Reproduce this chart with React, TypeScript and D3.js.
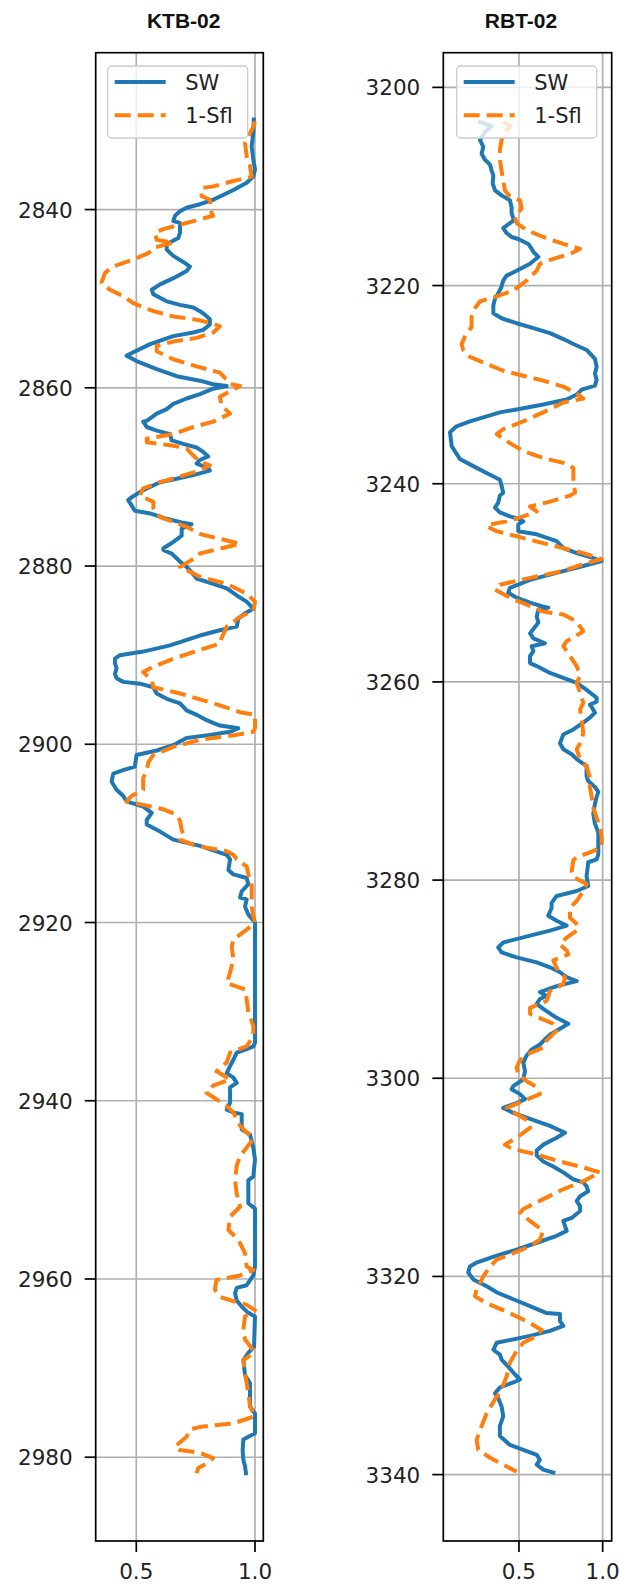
import React from "react";
import * as d3 from "d3";

// Well KTB-02: [depth, value]
const ktbSW: [number, number][] = [
  [2829.9,0.995],[2831.4,0.993],[2832.9,0.986],[2834.4,0.993],[2835.5,1.0],[2836.3,0.993],[2837.0,0.965],[2837.8,0.909],[2838.9,0.824],[2839.4,0.768],[2839.8,0.712],[2840.2,0.684],[2840.7,0.663],[2841.3,0.656],[2841.5,0.684],[2842.6,0.684],[2843.2,0.677],[2843.4,0.663],[2843.9,0.628],[2844.5,0.628],[2845.2,0.656],[2846.0,0.705],[2846.4,0.726],[2846.9,0.712],[2847.7,0.656],[2848.4,0.600],[2849.0,0.565],[2849.5,0.572],[2850.3,0.628],[2850.7,0.684],[2851.0,0.740],[2851.4,0.768],[2851.8,0.789],[2852.3,0.810],[2852.9,0.810],[2853.5,0.782],[2853.8,0.740],[2854.2,0.656],[2855.1,0.558],[2856.3,0.466],[2856.4,0.459],[2857.0,0.501],[2857.9,0.586],[2858.7,0.670],[2859.2,0.768],[2859.6,0.824],[2859.8,0.881],
  [2860.1,0.824],[2860.7,0.768],[2861.2,0.712],[2861.8,0.656],[2862.4,0.628],[2862.9,0.586],[2863.7,0.544],[2863.8,0.529],[2864.4,0.544],[2864.8,0.586],[2865.2,0.642],[2865.9,0.649],[2866.3,0.698],[2866.7,0.754],[2867.2,0.782],[2867.7,0.803],[2868.1,0.768],[2868.5,0.754],[2869.0,0.803],[2869.3,0.810],[2869.8,0.740],[2870.2,0.670],[2870.6,0.600],[2871.3,0.544],[2871.7,0.515],[2872.3,0.480],[2872.6,0.466],[2873.2,0.480],[2873.8,0.494],[2874.1,0.558],[2874.7,0.628],[2875.1,0.691],[2875.3,0.733],[2875.8,0.691],[2876.6,0.691],[2877.3,0.656],[2878.0,0.614],[2878.2,0.614],[2878.6,0.649],[2879.5,0.684],[2880.1,0.712],[2880.7,0.733],[2881.4,0.754],[2882.0,0.824],[2882.5,0.881],[2883.3,0.923],[2884.0,0.965],[2884.8,0.993],[2885.3,0.958],[2885.9,0.930],[2886.8,0.923],[2887.2,0.852],[2887.8,0.768],[2888.9,0.642],[2889.6,0.529],[2890.0,0.431],[2890.4,0.410],[2890.9,0.410],[2891.5,0.417],[2892.1,0.410],[2892.6,0.417],[2893.0,0.445],[2893.2,0.515],[2893.6,0.572],[2894.3,0.586],[2894.9,0.628],[2895.4,0.684],[2896.2,0.712],[2896.7,0.754],[2897.3,0.796],[2897.9,0.852],[2898.2,0.930],[2898.6,0.895],[2899.0,0.796],[2899.3,0.712],[2899.7,0.684],[2900.1,0.656],[2900.7,0.586],[2901.2,0.501],[2902.5,0.494],[2902.9,0.445],[2903.3,0.403],
  [2904.2,0.396],[2905.1,0.417],[2905.8,0.445],[2906.4,0.459],[2907.0,0.529],[2907.7,0.565],[2908.5,0.544],[2909.0,0.544],[2909.8,0.600],[2910.7,0.656],[2911.4,0.768],[2912.4,0.881],[2912.9,0.895],[2914.1,0.888],[2914.6,0.909],[2915.0,0.965],[2915.7,0.972],[2916.5,0.944],[2917.2,0.937],[2917.4,0.965],[2918.2,0.958],[2919.1,0.972],[2920.0,1.0],[2933.5,1.0],[2933.9,0.993],[2934.2,0.965],[2934.6,0.923],[2935.4,0.909],[2936.1,0.895],[2936.9,0.881],[2937.4,0.909],[2938.0,0.923],[2938.5,0.895],[2939.5,0.895],[2940.2,0.895],[2941.0,0.881],[2941.3,0.909],[2941.5,0.944],[2943.2,0.944],[2943.8,0.979],[2945.3,0.993],[2946.6,1.0],[2948.5,0.993],[2948.9,0.972],[2951.5,0.972],[2952.1,1.0],[2958.6,1.0],[2959.6,0.993],[2960.7,0.965],[2961.0,0.923],[2961.6,0.916],[2962.4,0.923],[2963.1,0.944],[2963.8,0.972],[2964.2,1.0],[2967.6,0.996],[2968.3,0.972],[2969.1,0.951],[2970.8,0.958],[2971.7,0.979],[2974.3,0.979],[2975.1,1.0],[2977.3,1.0],[2977.7,0.972],[2978.0,0.951],[2979.2,0.948],[2980.3,0.951],[2981.0,0.958],[2981.8,0.962],
];

const ktbSfl: [number, number][] = [
  [2830.1,1.0],[2830.7,0.993],[2831.8,0.972],[2832.5,0.958],[2834.0,0.965],[2835.1,0.979],[2836.3,0.986],[2836.8,0.909],[2837.4,0.824],[2837.6,0.775],[2838.5,0.775],[2838.9,0.810],[2840.4,0.817],[2840.7,0.824],[2841.1,0.768],[2841.7,0.684],[2842.2,0.614],[2842.6,0.579],[2843.4,0.586],[2843.7,0.656],[2844.3,0.572],[2844.9,0.551],[2845.6,0.487],[2846.4,0.403],[2847.1,0.368],[2848.2,0.354],[2849.0,0.389],[2849.7,0.445],[2850.5,0.487],[2851.4,0.572],[2852.0,0.656],[2852.3,0.740],[2852.7,0.810],[2853.1,0.852],[2853.8,0.824],[2854.4,0.754],[2854.8,0.656],[2855.3,0.586],[2855.9,0.586],[2856.8,0.656],[2857.6,0.754],[2858.3,0.852],[2859.1,0.881],[2859.6,0.895],[2859.8,0.937],
  [2861.0,0.852],[2862.0,0.859],[2862.9,0.895],[2863.8,0.824],[2864.4,0.740],[2865.2,0.656],[2865.7,0.544],[2866.1,0.544],[2866.5,0.656],[2866.8,0.712],[2867.6,0.740],[2868.3,0.768],[2868.7,0.810],[2869.3,0.768],[2870.6,0.600],[2871.3,0.529],[2872.1,0.515],[2872.8,0.572],[2873.6,0.572],[2874.5,0.600],[2875.6,0.712],[2876.4,0.768],[2877.5,0.937],[2878.6,0.768],[2879.0,0.754],[2880.1,0.684],[2881.2,0.768],[2882.0,0.881],[2883.1,0.965],[2884.0,1.0],[2885.0,0.993],[2885.7,0.937],[2886.8,0.881],[2888.1,0.859],[2888.7,0.852],[2889.4,0.768],[2890.4,0.656],[2891.3,0.572],[2891.9,0.529],[2892.8,0.565],[2893.6,0.572],[2894.3,0.684],[2895.4,0.824],[2896.4,0.937],[2896.7,1.0],[2898.2,1.0],[2898.6,0.993],[2899.0,0.909],[2899.5,0.768],[2900.3,0.656],[2901.2,0.572],[2902.0,0.551],[2902.9,0.544],[2903.8,0.529],
  [2905.1,0.529],[2905.8,0.480],[2906.4,0.459],[2906.8,0.529],[2907.3,0.614],[2907.9,0.670],[2908.6,0.684],[2909.6,0.691],[2910.1,0.698],[2910.7,0.684],[2911.3,0.740],[2911.6,0.796],[2912.0,0.881],[2912.4,0.909],[2912.9,0.923],[2913.7,0.965],[2914.6,0.972],[2915.6,0.986],[2918.2,0.986],[2919.3,0.993],[2920.0,1.0],[2920.8,0.965],[2921.9,0.909],[2922.7,0.902],[2924.1,0.909],[2925.6,0.895],[2926.8,0.881],[2927.5,0.958],[2928.6,0.965],[2930.1,0.972],[2931.6,0.993],[2932.7,0.993],[2933.9,0.965],[2934.6,0.895],[2935.7,0.881],[2936.7,0.838],[2937.6,0.895],[2938.3,0.824],[2939.1,0.796],[2940.6,0.881],[2941.3,0.909],[2942.1,0.923],[2942.8,0.937],[2944.3,0.993],[2946.2,0.937],[2947.3,0.923],[2948.9,0.916],[2950.4,0.923],[2951.9,0.937],[2953.0,0.895],[2954.5,0.888],[2955.6,0.930],[2957.1,0.958],[2958.6,0.965],[2959.0,0.993],[2959.6,0.937],[2960.1,0.838],[2961.2,0.831],[2962.0,0.852],[2962.5,0.909],[2962.9,0.965],[2963.5,1.0],[2964.2,0.958],[2965.7,0.951],[2966.8,0.958],[2968.0,0.993],[2968.3,0.993],[2969.1,0.951],[2970.6,0.958],[2972.8,0.972],[2974.3,0.979],[2975.4,1.0],[2976.2,0.909],[2976.6,0.768],[2976.9,0.726],[2977.7,0.712],[2978.8,0.663],[2979.2,0.684],[2979.5,0.768],[2980.1,0.824],[2980.7,0.796],[2981.2,0.761],[2981.8,0.754],
];

// Well RBT-02: [depth, value]
const rbtSW: [number, number][] = [
  [3203.5,0.267],[3203.9,0.337],[3204.5,0.297],[3205.3,0.267],[3206.0,0.287],[3206.7,0.277],[3207.3,0.297],[3207.8,0.327],[3208.4,0.337],[3208.9,0.347],[3209.7,0.343],[3210.4,0.357],[3210.9,0.396],[3211.4,0.446],[3212.1,0.456],[3212.7,0.456],[3213.4,0.470],[3213.7,0.446],[3214.2,0.406],[3214.7,0.426],[3215.1,0.456],[3215.3,0.496],[3215.8,0.556],[3216.3,0.576],[3216.6,0.586],[3217.1,0.616],[3217.8,0.566],[3218.5,0.486],[3219.0,0.426],[3219.5,0.406],[3220.1,0.396],[3220.8,0.376],[3221.3,0.357],[3222.0,0.347],[3222.8,0.347],[3223.3,0.396],[3223.8,0.486],[3224.3,0.586],[3224.8,0.685],[3225.4,0.765],[3225.9,0.825],[3226.5,0.904],[3227.4,0.954],[3228.2,0.964],[3228.9,0.954],[3229.5,0.964],[3230.1,0.954],[3230.5,0.875],[3231.0,0.845],[3231.5,0.785],[3232.0,0.645],[3232.5,0.486],[3232.8,0.386],[3233.3,0.287],[3233.7,0.207],[3234.2,0.127],[3234.8,0.088],[3236.2,0.098],[3237.5,0.147],[3238.4,0.247],[3239.1,0.327],[3239.6,0.386],
  [3240.2,0.396],[3240.9,0.406],[3241.2,0.386],[3241.9,0.376],[3242.4,0.357],[3242.9,0.386],[3243.3,0.446],[3243.6,0.506],[3243.8,0.526],[3244.1,0.496],[3244.8,0.496],[3245.1,0.606],[3245.8,0.725],[3246.5,0.765],[3247.0,0.845],[3247.5,0.944],[3247.8,0.994],[3248.3,0.884],[3249.0,0.725],[3249.7,0.566],[3250.5,0.446],[3251.0,0.436],[3251.5,0.486],[3252.0,0.566],[3252.4,0.645],[3252.5,0.675],[3252.7,0.616],[3253.4,0.606],[3254.0,0.616],[3255.1,0.566],[3255.6,0.586],[3256.1,0.655],[3256.4,0.576],[3256.9,0.586],[3257.4,0.566],[3258.1,0.566],[3258.4,0.606],[3259.1,0.685],[3259.6,0.765],[3260.1,0.845],[3260.8,0.904],[3261.6,0.964],[3262.0,0.964],[3262.3,0.924],[3262.8,0.944],[3263.1,0.954],[3263.6,0.924],[3264.1,0.884],[3264.8,0.825],[3265.3,0.765],[3266.2,0.745],[3266.8,0.765],[3267.3,0.815],[3267.8,0.845],[3268.5,0.904],[3269.5,0.904],
  [3270.0,0.914],[3270.6,0.954],[3271.1,0.974],[3271.6,0.964],[3272.3,0.954],[3273.3,0.944],[3274.3,0.954],[3275.2,0.974],[3277.4,0.974],[3277.9,0.964],[3278.2,0.914],[3279.6,0.904],[3280.6,0.914],[3281.1,0.845],[3281.6,0.725],[3282.3,0.695],[3282.8,0.695],[3283.6,0.675],[3284.1,0.725],[3284.6,0.785],[3285.1,0.685],[3285.6,0.566],[3286.3,0.406],[3286.8,0.376],[3287.3,0.396],[3287.8,0.486],[3288.3,0.606],[3288.8,0.685],[3289.3,0.745],[3289.8,0.785],[3290.2,0.845],[3290.7,0.725],[3291.3,0.625],[3291.7,0.665],[3292.0,0.625],[3292.5,0.606],[3293.0,0.645],[3293.9,0.725],[3294.5,0.795],[3295.2,0.725],[3295.6,0.685],[3295.9,0.665],[3296.6,0.625],[3297.1,0.576],[3297.7,0.546],[3298.4,0.526],[3299.3,0.536],[3300.1,0.526],[3300.8,0.466],[3301.1,0.456],[3301.6,0.506],[3302.1,0.536],[3302.5,0.486],[3303.0,0.406],[3303.5,0.466],[3304.1,0.566],[3304.8,0.685],[3305.5,0.775],[3306.0,0.725],[3306.7,0.645],[3307.3,0.606],[3307.8,0.606],[3308.4,0.645],
  [3308.9,0.705],[3309.5,0.765],[3310.2,0.825],[3310.5,0.884],[3310.9,0.904],[3311.4,0.914],[3311.9,0.865],[3312.4,0.845],[3312.9,0.865],[3313.4,0.865],[3314.1,0.815],[3314.4,0.765],[3314.9,0.775],[3315.4,0.785],[3315.9,0.725],[3316.6,0.606],[3317.3,0.486],[3317.9,0.367],[3318.6,0.247],[3319.0,0.207],[3319.6,0.197],[3320.3,0.227],[3321.0,0.307],[3321.6,0.367],[3322.3,0.466],[3323.0,0.566],[3323.7,0.665],[3323.8,0.745],[3324.5,0.745],[3325.0,0.765],[3325.5,0.685],[3326.0,0.566],[3326.7,0.367],[3327.4,0.347],[3327.9,0.386],[3328.4,0.396],[3329.1,0.436],[3329.7,0.466],[3330.4,0.506],[3330.7,0.466],[3331.2,0.386],[3331.8,0.357],[3332.3,0.376],[3333.1,0.396],[3334.1,0.406],[3335.1,0.386],[3336.1,0.386],[3337.0,0.446],[3337.5,0.526],[3338.0,0.606],[3338.5,0.625],[3339.0,0.606],[3339.5,0.645],[3339.8,0.705],
];

const rbtSfl: [number, number][] = [
  [3203.5,0.406],[3203.9,0.452],[3204.5,0.416],[3205.3,0.396],[3206.3,0.386],[3207.3,0.386],[3208.4,0.396],[3209.4,0.406],[3210.4,0.416],[3211.0,0.446],[3211.4,0.506],[3212.2,0.516],[3213.1,0.476],[3213.7,0.486],[3214.4,0.546],[3215.1,0.645],[3215.8,0.765],[3216.3,0.865],[3216.8,0.805],[3217.3,0.705],[3217.8,0.625],[3218.5,0.606],[3219.5,0.546],[3220.5,0.466],[3221.1,0.367],[3221.6,0.267],[3222.3,0.237],[3223.2,0.217],[3224.2,0.217],[3224.8,0.187],[3225.9,0.157],[3226.5,0.167],[3227.2,0.207],[3227.9,0.307],[3228.6,0.406],[3229.1,0.526],[3229.6,0.645],[3230.2,0.765],[3230.9,0.845],[3231.4,0.884],
  [3231.8,0.765],[3232.8,0.645],[3233.7,0.526],[3234.5,0.406],[3235.0,0.367],[3235.9,0.446],[3236.7,0.526],[3237.4,0.645],[3237.9,0.765],[3238.4,0.825],[3239.6,0.825],[3240.9,0.835],[3241.2,0.805],[3241.8,0.685],[3242.3,0.566],[3242.8,0.606],[3243.3,0.526],[3243.8,0.426],[3244.1,0.327],[3244.3,0.307],[3244.8,0.367],[3245.3,0.486],[3246.0,0.645],[3246.5,0.765],[3247.0,0.884],[3247.6,0.994],[3248.1,0.884],[3248.8,0.765],[3249.3,0.625],[3249.8,0.486],[3250.2,0.386],[3250.7,0.357],[3251.5,0.446],[3252.2,0.546],[3252.9,0.645],[3253.2,0.765],[3253.9,0.845],[3254.9,0.884],[3255.9,0.785],[3256.4,0.765],[3257.4,0.805],[3258.4,0.845],[3259.4,0.865],[3260.1,0.845],[3261.1,0.865],[3262.1,0.884],[3262.8,0.865],[3263.8,0.875],[3265.2,0.884],[3266.2,0.865],[3266.8,0.845],[3267.8,0.865],[3268.5,0.904],[3269.7,0.924],
  [3270.6,0.924],[3271.6,0.934],[3272.7,0.944],[3273.7,0.964],[3274.7,0.984],[3275.7,0.994],[3276.7,0.994],[3277.2,0.924],[3277.7,0.845],[3278.0,0.825],[3279.1,0.815],[3279.7,0.825],[3280.4,0.904],[3281.1,0.884],[3282.1,0.845],[3282.8,0.805],[3283.8,0.805],[3284.6,0.855],[3285.1,0.845],[3285.8,0.785],[3286.5,0.745],[3287.1,0.785],[3287.5,0.795],[3288.1,0.705],[3289.2,0.735],[3289.8,0.775],[3290.5,0.765],[3291.2,0.685],[3292.2,0.665],[3292.9,0.566],[3293.5,0.566],[3294.5,0.705],[3295.2,0.725],[3296.2,0.665],[3296.9,0.645],[3297.6,0.546],[3298.2,0.506],[3298.9,0.486],[3299.6,0.496],[3300.3,0.546],[3300.9,0.606],[3301.6,0.625],[3302.3,0.526],[3303.0,0.426],[3303.6,0.486],[3304.3,0.556],[3305.0,0.566],[3306.0,0.486],[3306.7,0.416],[3307.0,0.446],[3307.3,0.506],[3307.7,0.606],[3308.4,0.745],[3309.0,0.884],[3309.5,0.984],
  [3310.4,0.884],[3311.2,0.765],[3312.2,0.645],[3313.2,0.526],[3313.6,0.506],[3314.4,0.566],[3315.4,0.645],[3316.3,0.625],[3317.1,0.546],[3317.8,0.446],[3318.3,0.367],[3319.0,0.327],[3320.0,0.287],[3321.3,0.247],[3322.0,0.237],[3322.7,0.307],[3323.7,0.446],[3324.7,0.566],[3325.4,0.635],[3326.0,0.606],[3326.7,0.526],[3327.5,0.486],[3328.7,0.446],[3330.1,0.426],[3331.4,0.396],[3332.4,0.357],[3333.8,0.307],[3335.1,0.277],[3336.5,0.247],[3337.5,0.257],[3338.3,0.327],[3339.0,0.406],[3339.7,0.486],
];

const ktbDepthTicks = [2840, 2860, 2880, 2900, 2920, 2940, 2960, 2980];
const rbtDepthTicks = [3200, 3220, 3240, 3260, 3280, 3300, 3320, 3340];
const valueTicks = [0.5, 1.0];
const seriesNames = ["SW", "1-Sfl"];

const W = 619;
const H = 1585;
const TOP = 52.7;
const BOTTOM = 1541;
const BLUE = "#1f77b4";
const ORANGE = "#ff7f0e";
const TICK_FONT = "'DejaVu Sans', sans-serif";

type Panel = {
  title: string;
  titleX: number;
  left: number;
  right: number;
  xDomain: [number, number];
  yDomain: [number, number];
  yTicks: number[];
  sw: [number, number][];
  sfl: [number, number][];
  legendX: number;
};

const panels: Panel[] = [
  {
    title: "KTB-02",
    titleX: 183.7,
    left: 95.7,
    right: 263.3,
    xDomain: [0.329, 1.035],
    yDomain: [2822.4, 2989.4],
    yTicks: ktbDepthTicks,
    sw: ktbSW,
    sfl: ktbSfl,
    legendX: 107.7,
  },
  {
    title: "RBT-02",
    titleX: 521,
    left: 443.3,
    right: 611.7,
    xDomain: [0.048, 1.054],
    yDomain: [3196.5, 3346.7],
    yTicks: rbtDepthTicks,
    sw: rbtSW,
    sfl: rbtSfl,
    legendX: 456.7,
  },
];

function LogTrack({ p, idx }: { p: Panel; idx: number }) {
  const x = d3.scaleLinear().domain(p.xDomain).range([p.left, p.right]);
  const y = d3.scaleLinear().domain(p.yDomain).range([TOP, BOTTOM]);
  const line = d3
    .line<[number, number]>()
    .x((d) => x(d[1]))
    .y((d) => y(d[0]));
  const clipId = `clip-${idx}`;
  const lw = 4;
  const lx = p.legendX;
  return (
    <g>
      <defs>
        <clipPath id={clipId}>
          <rect x={p.left} y={TOP} width={p.right - p.left} height={BOTTOM - TOP} />
        </clipPath>
      </defs>
      <text
        x={p.titleX}
        y={27.5}
        textAnchor="middle"
        fontFamily="'Liberation Sans', Arial, sans-serif"
        fontWeight="bold"
        fontSize={21}
        fill="#111"
      >
        {p.title}
      </text>
      {/* grid */}
      {valueTicks.map((v) => (
        <line key={`gx${v}`} x1={x(v)} x2={x(v)} y1={TOP} y2={BOTTOM} stroke="#b0b0b0" strokeWidth={1.7} />
      ))}
      {p.yTicks.map((t) => (
        <line key={`gy${t}`} x1={p.left} x2={p.right} y1={y(t)} y2={y(t)} stroke="#b0b0b0" strokeWidth={1.7} />
      ))}
      {/* curves */}
      <g clipPath={`url(#${clipId})`} fill="none" strokeLinejoin="round">
        <path d={line(p.sw) || ""} stroke={BLUE} strokeWidth={lw} strokeLinecap="square" />
        <path d={line(p.sfl) || ""} stroke={ORANGE} strokeWidth={lw} strokeDasharray="16 7" />
      </g>
      {/* frame */}
      <rect x={p.left} y={TOP} width={p.right - p.left} height={BOTTOM - TOP} fill="none" stroke="#000" strokeWidth={1.7} />
      {/* y ticks */}
      {p.yTicks.map((t) => (
        <g key={`ty${t}`}>
          <line x1={p.left - 11} x2={p.left} y1={y(t)} y2={y(t)} stroke="#000" strokeWidth={1.7} />
          <text
            x={p.left - 23}
            y={y(t) + 8}
            textAnchor="end"
            fontFamily={TICK_FONT}
            fontSize={21.5}
            fill="#222"
          >
            {t}
          </text>
        </g>
      ))}
      {/* x ticks */}
      {valueTicks.map((v) => (
        <g key={`tx${v}`}>
          <line x1={x(v)} x2={x(v)} y1={BOTTOM} y2={BOTTOM + 11} stroke="#000" strokeWidth={1.7} />
          <text
            x={x(v)}
            y={BOTTOM + 37.5}
            textAnchor="middle"
            fontFamily={TICK_FONT}
            fontSize={21.5}
            fill="#222"
          >
            {d3.format(".1f")(v)}
          </text>
        </g>
      ))}
      {/* legend */}
      <g>
        <rect x={lx} y={66} width={140} height={72} rx={4} fill="#fff" fillOpacity={0.8} stroke="#cccccc" strokeWidth={1.3} />
        <line x1={lx + 7} x2={lx + 58} y1={82} y2={82} stroke={BLUE} strokeWidth={lw} />
        <line x1={lx + 7} x2={lx + 58} y1={115.3} y2={115.3} stroke={ORANGE} strokeWidth={lw} strokeDasharray="16 7" />
        <text x={lx + 77.5} y={89.5} fontFamily={TICK_FONT} fontSize={21} fill="#222">
          {seriesNames[0]}
        </text>
        <text x={lx + 77.5} y={123} fontFamily={TICK_FONT} fontSize={21} fill="#222">
          {seriesNames[1]}
        </text>
      </g>
    </g>
  );
}

export default function App() {
  return (
    <svg
      width={W}
      height={H}
      viewBox={`0 0 ${W} ${H}`}
      style={{ position: "absolute", left: 0, top: 0, background: "#fff" }}
    >
      <rect x={0} y={0} width={W} height={H} fill="#fff" />
      {panels.map((p, i) => (
        <LogTrack key={p.title} p={p} idx={i} />
      ))}
    </svg>
  );
}
